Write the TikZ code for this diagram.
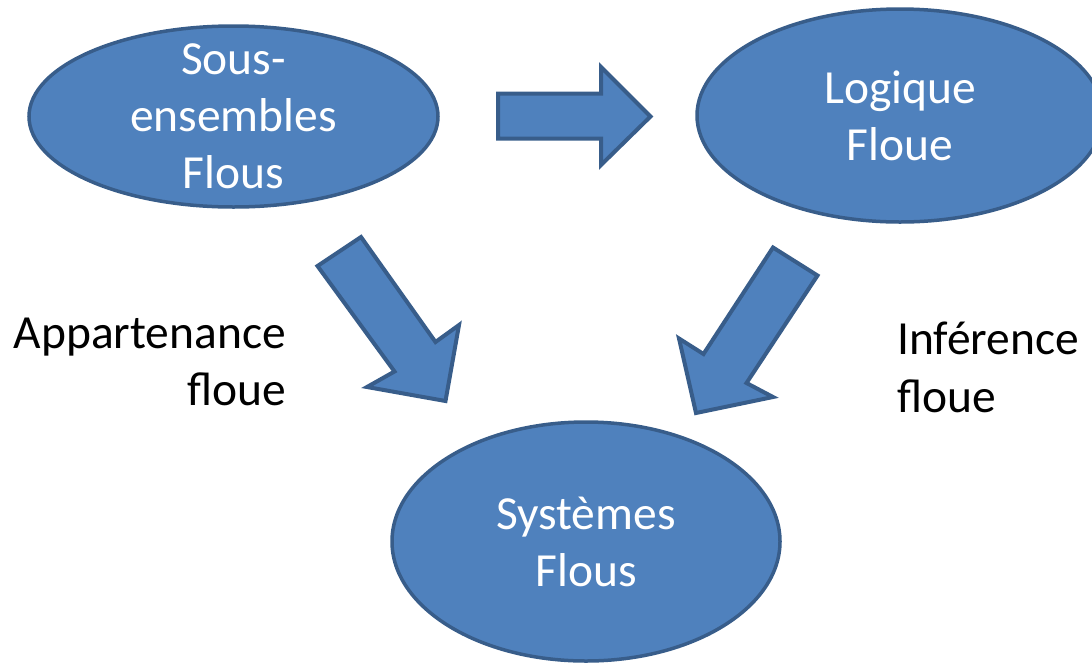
\documentclass[tikz,border=0pt]{standalone}
\usepackage{fontspec}
\setmainfont{Carlito}
\usetikzlibrary{shapes.geometric}
\definecolor{fuzzyblue}{HTML}{4F81BD}
\definecolor{fuzzyedge}{HTML}{385D8A}
\tikzset{
  blob/.style={ellipse,fill=fuzzyblue,draw=fuzzyedge,line width=3.5pt,inner sep=0pt},
  inside/.style={text=white,align=center,inner sep=0pt,font=\fontsize{47.5}{57}\selectfont},
  bigarrow/.style={fill=fuzzyblue,draw=fuzzyedge,line width=4pt,line join=miter},
  lbl/.style={inner sep=0pt,font=\fontsize{47.5}{57.5}\selectfont}
}
\begin{document}
\begin{tikzpicture}[x=1pt,y=-1pt]
\useasboundingbox (0,0) rectangle (1092,665);

\node (sets) [blob,minimum width=409pt,minimum height=181pt] at (233.5,116.5) {};
\node (setstext) [inside] at (sets.center) {Sous-\\ensembles\\Flous};

\node (logic) [blob,minimum width=406pt,minimum height=213pt] at (900,115.5) {};
\node (logictext) [inside] at (logic.center) {Logique\\Floue};

\node (systems) [blob,minimum width=388pt,minimum height=239pt] at (586,541.5) {};
\node (systemstext) [inside] at (systems.center) {Systèmes\\Flous};

\filldraw[bigarrow] (498,93.5) -- (601,93.5) -- (601,67) -- (650.5,116.5) -- (601,165)
  -- (601,138.5) -- (498,138.5) -- cycle;
\filldraw[bigarrow] (317.5,266) -- (361,237) -- (435.5,342) -- (459,325) -- (445.5,401)
  -- (367,387) -- (394.5,371.5) -- cycle;
\filldraw[bigarrow] (817.5,275.5) -- (773,247.5) -- (703.5,354) -- (679,338.5) -- (696,413)
  -- (773,397) -- (746.5,383) -- cycle;

\node (belong) [lbl,align=right,anchor=east] at (286,362) {Appartenance\\floue};
\node (infer) [lbl,align=left,anchor=west] at (897,367.5) {Inférence\\floue};

\end{tikzpicture}
\end{document}
